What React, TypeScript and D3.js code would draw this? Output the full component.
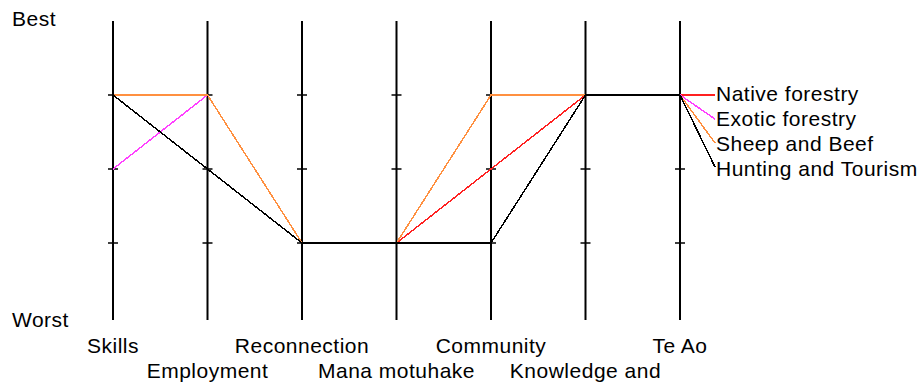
import React from 'react';
import * as d3 from 'd3';

const axes = ['Skills', 'Employment', 'Reconnection', 'Mana motuhake', 'Community', 'Knowledge and', 'Te Ao'];
const seriesNames = ['Native forestry', 'Exotic forestry', 'Sheep and Beef', 'Hunting and Tourism'];
const seriesColors = ['#ff2020', '#ff40ff', '#ff9040', '#000000'];
const nativeForestry = [3, 3, 1, 1, 2, 3, 3];
const exoticForestry = [2, 3, 1, 1, 3, 3, 3];
const sheepAndBeef = [3, 3, 1, 1, 3, 3, 3];
const huntingAndTourism = [3, 2, 1, 1, 1, 3, 3];
const tickLevels = [1, 2, 3];

const seriesValues = [nativeForestry, exoticForestry, sheepAndBeef, huntingAndTourism];

const App = () => {
  const width = 923;
  const height = 385;
  const font = '"Liberation Sans", Arial, sans-serif';

  const x = d3.scalePoint<string>().domain(axes).range([113, 680]);
  const y = d3.scaleLinear().domain([0, 4]).range([317, 21]);

  const line = d3
    .line<number>()
    .x((d, i) => x(axes[i]) as number)
    .y((d) => y(d));

  const lastX = x(axes[axes.length - 1]) as number;

  return (
    <svg
      width={width}
      height={height}
      style={{ position: 'fixed', left: 0, top: 0, background: '#fff' }}
      fontFamily={font}
      fontSize={21}
      letterSpacing={0.5}
    >
      {/* axes */}
      {axes.map((a) => (
        <g key={a} transform={`translate(${x(a)},0)`}>
          <line y1={y(4)} y2={320} stroke='#000' strokeWidth={2} />
          {tickLevels.map((t) => (
            <line key={t} x1={-5} x2={5} y1={y(t)} y2={y(t)} stroke='#000' strokeWidth={1.5} />
          ))}
        </g>
      ))}

      {/* series */}
      {seriesValues.map((vals, i) => (
        <path
          key={seriesNames[i]}
          d={line(vals) as string}
          fill='none'
          stroke={seriesColors[i]}
          strokeWidth={1.5}
          shapeRendering='crispEdges'
        />
      ))}

      {/* legend */}
      {seriesNames.map((name, i) => {
        const vals = seriesValues[i];
        const endY = 95 + i * 24;
        return (
          <g key={name}>
            <line
              x1={lastX}
              y1={y(vals[vals.length - 1])}
              x2={715}
              y2={endY}
              stroke={seriesColors[i]}
              strokeWidth={1.5}
              shapeRendering='crispEdges'
            />
            <text x={716} y={101 + i * 25} fill='#000'>
              {name}
            </text>
          </g>
        );
      })}

      {/* axis labels */}
      {axes.map((a, i) => (
        <text key={a} x={x(a)} y={i % 2 === 0 ? 353 : 378} textAnchor='middle' fill='#000'>
          {a}
        </text>
      ))}

      <text x={12} y={26} fill='#000'>Best</text>
      <text x={12} y={327} fill='#000'>Worst</text>
    </svg>
  );
};

export default App;
